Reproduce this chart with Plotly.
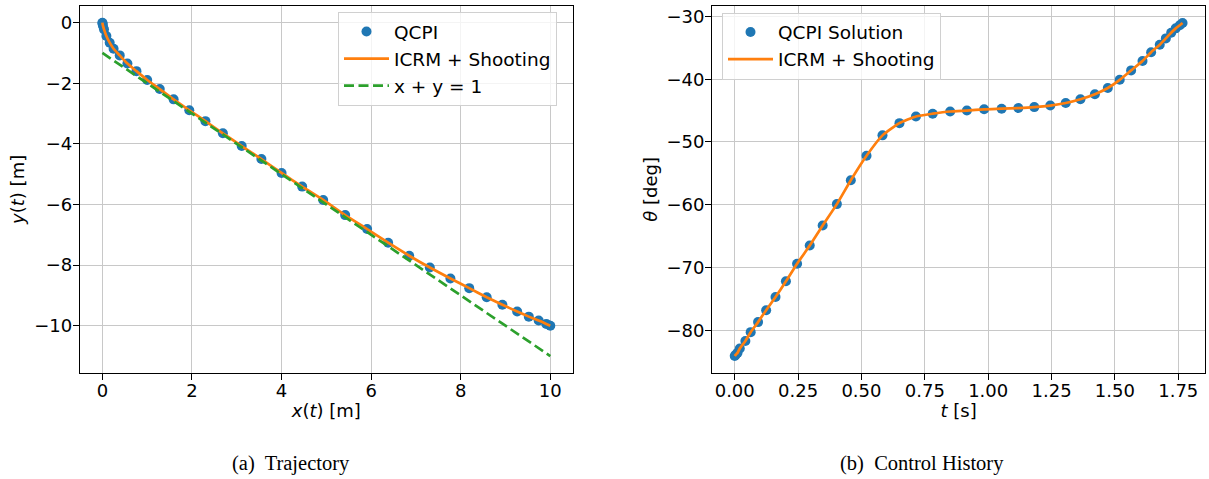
import plotly.graph_objects as go

# ---------------- data: (a) Trajectory ----------------
qcpi_x = [0.0, 0.003, 0.012, 0.036, 0.089, 0.163, 0.25, 0.387, 0.558, 0.76, 1.0, 1.28,
          1.59, 1.94, 2.30, 2.69, 3.11, 3.55, 4.0, 4.46, 4.93, 5.42, 5.91, 6.38,
          6.85, 7.31, 7.77, 8.19, 8.58, 8.93, 9.26, 9.52, 9.74, 9.91, 10.0]
qcpi_y = [0.0, -0.03, -0.10, -0.22, -0.44, -0.66, -0.86, -1.08, -1.35, -1.60, -1.89, -2.19,
          -2.53, -2.89, -3.25, -3.65, -4.07, -4.50, -4.96, -5.41, -5.85, -6.35, -6.81, -7.26,
          -7.69, -8.08, -8.44, -8.76, -9.06, -9.31, -9.53, -9.70, -9.83, -9.94, -10.0]
ref_line_x = [0, 10]
ref_line_y = [-1, -11]

# ---------------- data: (b) Control History ----------------
qcpi_t = [0.0, 0.004, 0.011, 0.020, 0.042, 0.063, 0.092, 0.124, 0.161, 0.202, 0.246, 0.296,
          0.347, 0.403, 0.458, 0.520, 0.583, 0.650, 0.715, 0.781, 0.850, 0.916, 0.984,
          1.053, 1.119, 1.182, 1.245, 1.306, 1.364, 1.421, 1.472, 1.519, 1.564, 1.609,
          1.643, 1.677, 1.701, 1.722, 1.740, 1.756, 1.767]
qcpi_theta = [-84.1, -83.9, -83.6, -82.9, -81.7, -80.3, -78.7, -76.8, -74.7, -72.2, -69.4, -66.5,
              -63.3, -59.9, -56.1, -52.2, -48.95, -47.0, -45.95, -45.5, -45.15, -45.0, -44.8,
              -44.7, -44.6, -44.45, -44.2, -43.8, -43.2, -42.4, -41.4, -40.1, -38.6, -37.1,
              -35.7, -34.5, -33.5, -32.6, -31.9, -31.4, -31.05]

left_xticks = [0, 2, 4, 6, 8, 10]
left_yticks = [0, -2, -4, -6, -8, -10]
right_xticks = [0.0, 0.25, 0.5, 0.75, 1.0, 1.25, 1.5, 1.75]
right_yticks = [-30, -40, -50, -60, -70, -80]

W, H = 1209, 479


def fx(px):
    return px / W


def fy(py):
    return 1 - py / H


BLUE, ORANGE, GREEN = "#1f77b4", "#ff7f0e", "#2ca02c"
GRID = "#c8c8c8"

fig = go.Figure()
fig.add_trace(go.Scatter(x=qcpi_x, y=qcpi_y, mode="markers", name="QCPI",
                         marker=dict(color=BLUE, size=10), xaxis="x", yaxis="y",
                         legend="legend", legendgroup="a1"))
fig.add_trace(go.Scatter(x=qcpi_x, y=qcpi_y, mode="lines", name="ICRM + Shooting",
                         line=dict(color=ORANGE, width=2.7, shape="spline", smoothing=0.5),
                         xaxis="x", yaxis="y", legend="legend", legendgroup="a2"))
fig.add_trace(go.Scatter(x=ref_line_x, y=ref_line_y, mode="lines", name="x + y = 1",
                         line=dict(color=GREEN, width=2.7, dash="10px,4.5px"),
                         xaxis="x", yaxis="y", legend="legend", legendgroup="a3"))
fig.add_trace(go.Scatter(x=qcpi_t, y=qcpi_theta, mode="markers", name="QCPI Solution",
                         marker=dict(color=BLUE, size=10), xaxis="x2", yaxis="y2",
                         legend="legend2", legendgroup="b1"))
fig.add_trace(go.Scatter(x=qcpi_t, y=qcpi_theta, mode="lines", name="ICRM + Shooting",
                         line=dict(color=ORANGE, width=2.7, shape="spline", smoothing=0.5),
                         xaxis="x2", yaxis="y2", legend="legend2", legendgroup="b2"))

axis_common = dict(showgrid=True, gridcolor=GRID, gridwidth=1.4, showline=True,
                   linecolor="black", linewidth=1.4, mirror=True, ticks="outside",
                   ticklen=6, tickwidth=1.4, tickcolor="black", zeroline=False,
                   automargin=False, tickfont=dict(size=18, color="black"))

ydom = [fy(372.7), fy(6)]
legend_common = dict(xanchor="left", yanchor="top", bgcolor="rgba(255,255,255,0.8)",
                     bordercolor="#d0d0d0", borderwidth=1, font=dict(size=18.5),
                     tracegroupgap=0, itemwidth=45)

fig.update_layout(
    width=W, height=H,
    margin=dict(l=0, r=0, t=0, b=0),
    paper_bgcolor="white", plot_bgcolor="white",
    font=dict(family="DejaVu Sans", size=18, color="black"),
    xaxis=dict(axis_common, domain=[fx(80), fx(572.7)], range=[-0.5, 10.5],
               tickvals=left_xticks, anchor="y", ticklabelstandoff=-5,
               title=dict(text="<i>x</i>(<i>t</i>) [m]", standoff=4, font=dict(size=18))),
    yaxis=dict(axis_common, domain=ydom, range=[-11.55, 0.55],
               tickvals=left_yticks, anchor="x", ticklabelstandoff=-3,
               title=dict(text="<i>y</i>(<i>t</i>) [m]", standoff=4, font=dict(size=18))),
    xaxis2=dict(axis_common, domain=[fx(712.3), fx(1205)], range=[-0.0885, 1.8555],
                tickvals=right_xticks, tickformat=".2f", anchor="y2", ticklabelstandoff=-5,
                title=dict(text="<i>t</i> [s]", standoff=4, font=dict(size=18))),
    yaxis2=dict(axis_common, domain=ydom, range=[-86.76, -28.34],
                tickvals=right_yticks, anchor="x2", ticklabelstandoff=-3,
                title=dict(text="<i>θ</i> [deg]", standoff=4, font=dict(size=18))),
    legend=dict(legend_common, x=fx(338), y=fy(12)),
    legend2=dict(legend_common, x=fx(722), y=fy(12.5)),
    annotations=[
        dict(text="(a)  Trajectory", x=fx(291), y=fy(463), xref="paper", yref="paper",
             showarrow=False, xanchor="center", yanchor="middle",
             font=dict(family="Liberation Serif", size=20.5, color="black")),
        dict(text="(b)  Control History", x=fx(921.5), y=fy(463), xref="paper",
             yref="paper", showarrow=False, xanchor="center", yanchor="middle",
             font=dict(family="Liberation Serif", size=20.5, color="black")),
    ],
)

# remove the browser's default 8px page margin so the figure fills the window exactly
fig.write_html("out.html", config={"displayModeBar": False},
               post_script="document.body.style.margin='0';document.body.style.overflow='hidden';")
